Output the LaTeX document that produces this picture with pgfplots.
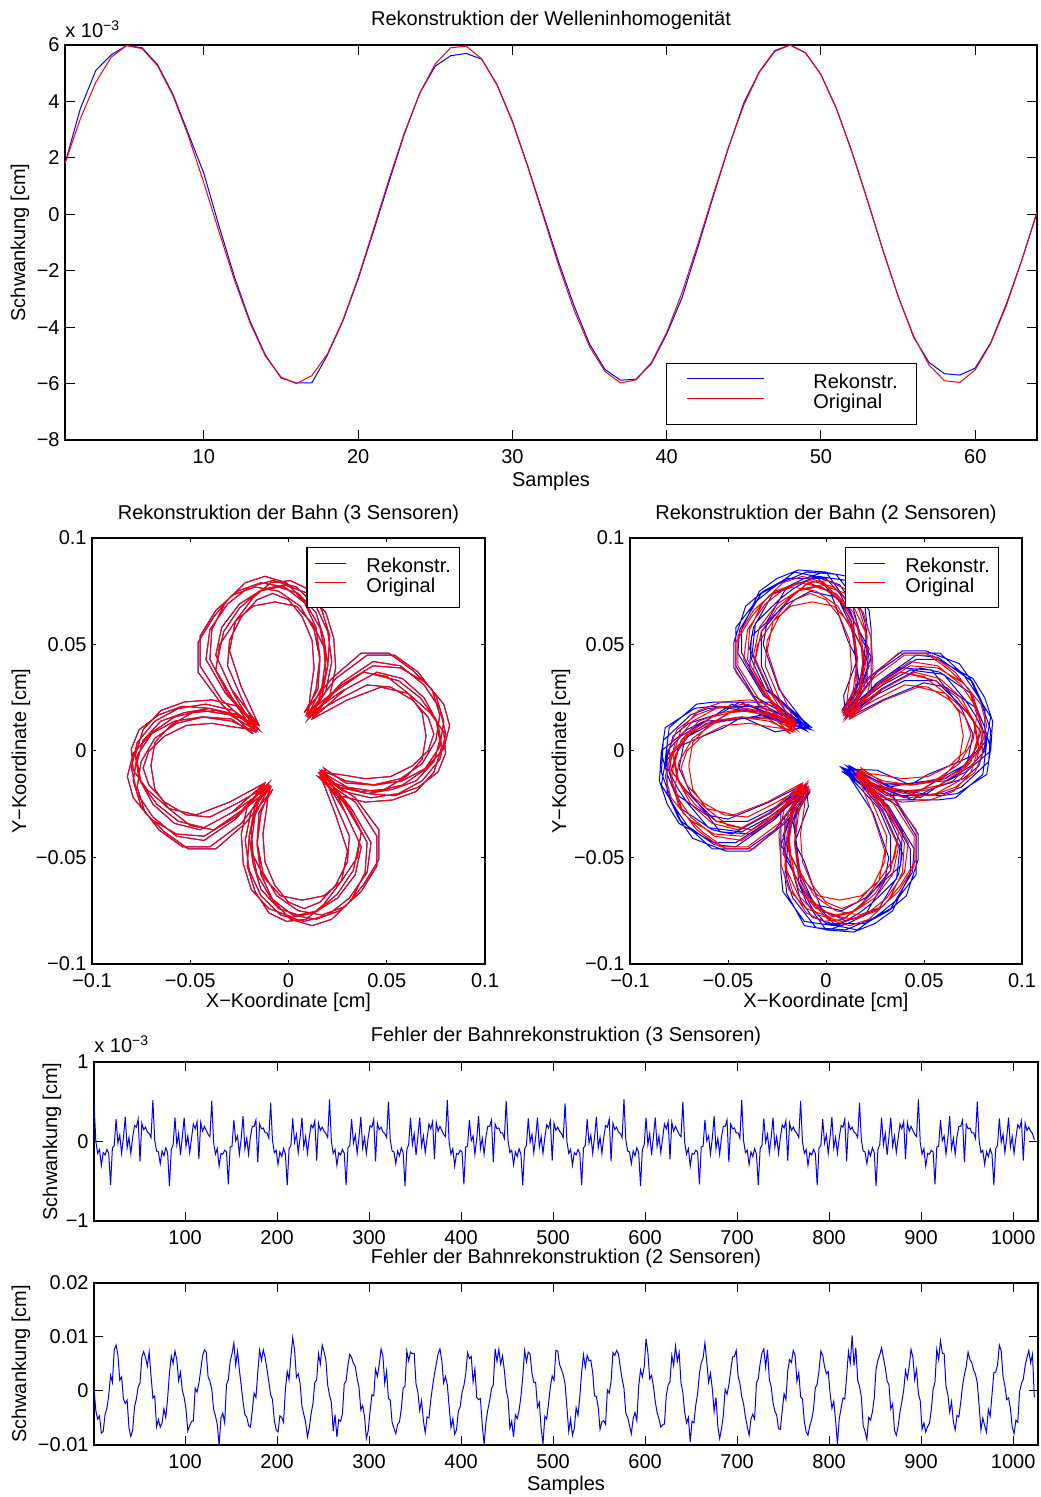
\documentclass[border=0pt]{standalone}
\usepackage{fontspec}
\setmainfont{Liberation Sans}
\usepackage{pgfplots}
\usepackage{pgfplotstable}
\pgfplotsset{compat=1.18}
\definecolor{mblue}{RGB}{0,0,255}
\definecolor{mred}{RGB}{255,0,0}
\pgfplotsset{
  mstyle/.style={
    scale only axis, anchor=south west,
    every axis title shift=0pt,
    axis line style={line width=0.6bp},
    every tick/.style={black, line width=0.5bp},
    tick align=inside,
    font=\fontsize{10bp}{12bp}\selectfont,
    title style={anchor=center, inner sep=0pt},
    xlabel style={anchor=center, inner sep=0pt},
    ylabel style={anchor=center, inner sep=0pt},
    legend cell align=left,
    xticklabel style={yshift=-1.2bp},
    yticklabel style={inner xsep=2.5bp},
  },
  leg1/.style={
    legend style={draw=black, line width=0.6bp, inner xsep=0pt, inner ysep=5.25bp, column sep=24.5bp, row sep=0pt,
      nodes={inner sep=0pt, text height=7.5bp, text depth=2.5bp, text width=51.5bp, align=left}},
    legend image code/.code={\path[draw=none,fill=none] (0bp,0bp) rectangle (48.5bp,5bp); \draw[##1,line width=0.5bp] (10bp,2.75bp) -- (48.5bp,2.75bp);},
  },
  leg2/.style={
    legend style={draw=black, line width=0.6bp, inner xsep=0pt, inner ysep=5.25bp, column sep=10bp, row sep=0pt,
      nodes={inner sep=0pt, text height=7bp, text depth=2.5bp, text width=46.5bp, align=left}},
    legend image code/.code={\path[draw=none,fill=none] (0bp,0bp) rectangle (19.5bp,5bp); \draw[##1,line width=0.5bp] (4bp,2.5bp) -- (19.5bp,2.5bp);},
  },
}

\pgfplotstableread{
n r b
1 1.80 1.80
2 3.39 3.75
3 4.68 5.10
4 5.57 5.65
5 5.98 5.98
6 5.87 5.90
7 5.26 5.30
8 4.20 4.25
9 2.77 2.85
10 1.11 1.45
11 -0.65 -0.45
12 -2.36 -2.25
13 -3.86 -3.80
14 -5.04 -5.00
15 -5.77 -5.80
16 -6.00 -5.98
17 -5.72 -5.98
18 -4.96 -5.00
19 -3.77 -3.80
20 -2.25 -2.30
21 -0.52 -0.60
22 1.24 1.15
23 2.89 2.85
24 4.30 4.30
25 5.33 5.25
26 5.90 5.62
27 5.96 5.70
28 5.51 5.50
29 4.58 4.60
30 3.27 3.30
31 1.67 1.70
32 -0.07 0.00
33 -1.82 -1.70
34 -3.40 -3.25
35 -4.69 -4.60
36 -5.57 -5.50
37 -5.98 -5.88
38 -5.87 -5.85
39 -5.26 -5.30
40 -4.19 -4.25
41 -2.77 -2.95
42 -1.09 -1.20
43 0.67 0.60
44 2.37 2.35
45 3.87 3.95
46 5.03 5.05
47 5.77 5.80
48 6.00 6.00
49 5.72 5.72
50 4.95 4.95
51 3.74 3.75
52 2.22 2.22
53 0.51 0.52
54 -1.25 -1.25
55 -2.91 -2.90
56 -4.31 -4.35
57 -5.34 -5.25
58 -5.90 -5.65
59 -5.96 -5.70
60 -5.51 -5.45
61 -4.58 -4.55
62 -3.26 -3.20
63 -1.66 -1.65
64 0.09 0.05
}\wave

% original trajectory (units of 1e-3 cm)
\pgfplotstableread[row sep=\\]{
x y\\
16 -11\\28 -19\\42 -22\\56 -20\\68 -14\\77 -4\\80 8\\77 20\\69 31\\57 40\\43 42\\27 32\\
11 16\\19 28\\22 42\\20 56\\14 68\\4 77\\-8 80\\-20 77\\-31 69\\-40 57\\-42 43\\-32 27\\
-16 11\\-28 19\\-42 22\\-56 20\\-68 14\\-77 4\\-80 -8\\-77 -20\\-69 -31\\-57 -40\\-43 -42\\-27 -32\\
-11 -16\\-19 -28\\-22 -42\\-20 -56\\-14 -68\\-4 -77\\8 -80\\20 -77\\31 -69\\40 -57\\42 -43\\32 -27\\
17 -10\\30 -17\\44 -19\\58 -16\\69 -9\\77 2\\79 14\\75 26\\66 37\\54 45\\40 45\\24 34\\
10 17\\17 30\\19 44\\16 58\\9 69\\-2 77\\-14 79\\-26 75\\-37 66\\-45 54\\-45 40\\-34 24\\
-17 10\\-30 17\\-44 19\\-58 16\\-69 9\\-77 -2\\-79 -14\\-75 -26\\-66 -37\\-54 -45\\-40 -45\\-24 -34\\
-10 -17\\-17 -30\\-19 -44\\-16 -58\\-9 -69\\2 -77\\14 -79\\26 -75\\37 -66\\45 -54\\45 -40\\34 -24\\
15 -12\\26 -21\\39 -24\\53 -23\\65 -19\\74 -10\\78 2\\76 13\\69 25\\58 34\\45 37\\29 29\\
12 15\\21 26\\24 39\\23 53\\19 65\\10 74\\-2 78\\-13 76\\-25 69\\-34 58\\-37 45\\-29 29\\
-15 12\\-26 21\\-39 24\\-53 23\\-65 19\\-74 10\\-78 -2\\-76 -13\\-69 -25\\-58 -34\\-45 -37\\-29 -29\\
-12 -15\\-21 -26\\-24 -39\\-23 -53\\-19 -65\\-10 -74\\2 -78\\13 -76\\25 -69\\34 -58\\37 -45\\29 -29\\
16 -10\\26 -11\\39 -13\\52 -12\\63 -7\\71 0\\74 8\\71 16\\63 24\\52 30\\40 31\\25 24\\
10 16\\11 26\\13 39\\12 52\\7 63\\0 71\\-8 74\\-16 71\\-24 63\\-30 52\\-31 40\\-24 25\\
-16 10\\-26 11\\-39 13\\-52 12\\-63 7\\-71 0\\-74 -8\\-71 -16\\-63 -24\\-52 -30\\-40 -31\\-25 -24\\
-10 -16\\-11 -26\\-13 -39\\-12 -52\\-7 -63\\0 -71\\8 -74\\16 -71\\24 -63\\30 -52\\31 -40\\24 -25\\
17 -9\\29 -14\\44 -16\\58 -14\\70 -8\\79 1\\82 12\\79 22\\70 32\\57 39\\43 40\\27 31\\
9 17\\14 29\\16 44\\14 58\\8 70\\-1 79\\-12 82\\-22 79\\-32 70\\-39 57\\-40 43\\-31 27\\
-17 9\\-29 14\\-44 16\\-58 14\\-70 8\\-79 -1\\-82 -12\\-79 -22\\-70 -32\\-57 -39\\-43 -40\\-27 -31\\
-9 -17\\-14 -29\\-16 -44\\-14 -58\\-8 -70\\1 -79\\12 -82\\22 -79\\32 -70\\39 -57\\40 -43\\31 -27\\
17 -10\\26 -17\\40 -20\\53 -18\\65 -14\\74 -5\\77 5\\75 15\\67 25\\56 33\\43 36\\27 28\\
10 17\\17 26\\20 40\\18 53\\14 65\\5 74\\-5 77\\-15 75\\-25 67\\-33 56\\-36 43\\-28 27\\
-17 10\\-26 17\\-40 20\\-53 18\\-65 14\\-74 5\\-77 -5\\-75 -15\\-67 -25\\-56 -33\\-43 -36\\-27 -28\\
-10 -17\\-17 -26\\-20 -40\\-18 -53\\-14 -65\\-5 -74\\5 -77\\15 -75\\25 -67\\33 -56\\36 -43\\28 -27\\
18 -8\\29 -15\\43 -16\\57 -13\\68 -6\\75 5\\77 17\\73 29\\63 38\\51 46\\37 46\\22 34\\
8 18\\15 29\\16 43\\13 57\\6 68\\-5 75\\-17 77\\-29 73\\-38 63\\-46 51\\-46 37\\-34 22\\
-18 8\\-29 15\\-43 16\\-57 13\\-68 6\\-75 -5\\-77 -17\\-73 -29\\-63 -38\\-51 -46\\-37 -46\\-22 -34\\
-8 -18\\-15 -29\\-16 -43\\-13 -57\\-6 -68\\5 -75\\17 -77\\29 -73\\38 -63\\46 -51\\46 -37\\34 -22\\
15 -10\\25 -17\\37 -19\\49 -18\\60 -12\\68 -4\\70 7\\68 18\\61 27\\50 35\\38 37\\24 28\\
10 15\\17 25\\19 37\\18 49\\12 60\\4 68\\-7 70\\-18 68\\-27 61\\-35 50\\-37 38\\-28 24\\
-15 10\\-25 17\\-37 19\\-49 18\\-60 12\\-68 4\\-70 -7\\-68 -18\\-61 -27\\-50 -35\\-38 -37\\-24 -28\\
-10 -15\\-17 -25\\-19 -37\\-18 -49\\-12 -60\\-4 -68\\7 -70\\18 -68\\27 -61\\35 -50\\37 -38\\28 -24\\
15 -12\\26 -16\\40 -20\\54 -21\\66 -17\\76 -10\\80 -1\\79 9\\72 18\\61 27\\47 30\\30 24\\
12 15\\16 26\\20 40\\21 54\\17 66\\10 76\\1 80\\-9 79\\-18 72\\-27 61\\-30 47\\-24 30\\
-15 12\\-26 16\\-40 20\\-54 21\\-66 17\\-76 10\\-80 1\\-79 -9\\-72 -18\\-61 -27\\-47 -30\\-30 -24\\
-12 -15\\-16 -26\\-20 -40\\-21 -54\\-17 -66\\-10 -76\\-1 -80\\9 -79\\18 -72\\27 -61\\30 -47\\24 -30\\
16 -11\\
}\redflower

% reconstruction with 2 sensors (units of 1e-3 cm)
\pgfplotstableread[row sep=\\]{
x y\\
9 -8\\31 -21\\43 -21\\60 -20\\69 -17\\83 -5\\84 10\\79 23\\74 33\\57 44\\46 45\\26 32\\
11 17\\21 31\\21 43\\20 60\\17 69\\5 83\\-10 84\\-23 79\\-33 74\\-44 57\\-45 46\\-32 26\\
-9 11\\-31 21\\-43 21\\-60 20\\-69 17\\-83 5\\-84 -10\\-79 -23\\-74 -33\\-57 -44\\-46 -45\\-26 -32\\
-11 -17\\-21 -31\\-21 -43\\-20 -60\\-17 -69\\-5 -83\\10 -84\\23 -79\\33 -74\\44 -57\\45 -46\\32 -26\\
10.5 -7\\30 -16\\48 -22\\58 -16\\74 -7\\81 0\\84 16\\76 28\\70 36\\58 46\\40 46\\26 37\\
10 18\\16 30\\22 48\\16 58\\7 74\\0 81\\-16 84\\-28 76\\-36 70\\-46 58\\-46 40\\-37 26\\
-7.5 10\\-30 16\\-48 22\\-58 16\\-74 7\\-81 0\\-84 -16\\-76 -28\\-70 -36\\-58 -46\\-40 -46\\-26 -37\\
-10 -18\\-16 -30\\-22 -48\\-16 -58\\-7 -74\\0 -81\\16 -84\\28 -76\\36 -70\\46 -58\\46 -40\\37 -26\\
8 -9.5\\29 -23\\40 -23\\57 -23\\66 -22\\80 -11\\82 4\\78 16\\74 27\\58 37\\48 39\\28 29\\
12 16\\23 29\\23 40\\23 57\\22 66\\11 80\\-4 82\\-16 78\\-27 74\\-37 58\\-39 48\\-29 28\\
-10.5 12\\-29 23\\-40 23\\-57 23\\-66 22\\-80 11\\-82 -4\\-78 -16\\-74 -27\\-58 -37\\-48 -39\\-28 -29\\
-12 -16\\-23 -29\\-23 -40\\-23 -57\\-22 -66\\-11 -80\\4 -82\\16 -78\\27 -74\\37 -58\\39 -48\\29 -28\\
11 -8.5\\26 -9\\43 -16\\52 -11\\68 -5\\75 -2\\79 9\\72 18\\67 23\\56 33\\40 33\\27 27\\
10 17\\9 26\\16 43\\11 52\\5 68\\2 75\\-9 79\\-18 72\\-23 67\\-33 56\\-33 40\\-27 27\\
-8 11.5\\-26 9\\-43 16\\-52 11\\-68 5\\-75 2\\-79 -9\\-72 -18\\-67 -23\\-56 -33\\-40 -33\\-27 -27\\
-10 -17\\-9 -26\\-16 -43\\-11 -52\\-5 -68\\-2 -75\\9 -79\\18 -72\\23 -67\\33 -56\\33 -40\\27 -27\\
7.5 -7.5\\32 -16\\45 -15\\62 -14\\71 -10\\84 0\\85 14\\81 25\\75 34\\57 43\\46 43\\26 31\\
9 18\\16 32\\15 45\\14 62\\10 71\\0 84\\-14 85\\-25 81\\-34 75\\-43 57\\-43 46\\-31 26\\
-11 10.5\\-32 16\\-45 15\\-62 14\\-71 10\\-84 0\\-85 -14\\-81 -25\\-75 -34\\-57 -43\\-46 -43\\-26 -31\\
-9 -18\\-16 -32\\-15 -45\\-14 -62\\-10 -71\\0 -84\\14 -85\\25 -81\\34 -75\\43 -57\\43 -46\\31 -26\\
9.5 -9\\26 -16\\44 -23\\53 -18\\70 -13\\78 -7\\82 6\\76 17\\71 24\\60 36\\43 38\\29 31\\
10 18\\16 26\\23 44\\18 53\\13 70\\7 78\\-6 82\\-17 76\\-24 71\\-36 60\\-38 43\\-31 29\\
-9.5 12.5\\-26 16\\-44 23\\-53 18\\-70 13\\-78 7\\-82 -6\\-76 -17\\-71 -24\\-60 -36\\-43 -38\\-29 -31\\
-10 -18\\-16 -26\\-23 -44\\-18 -53\\-13 -70\\-7 -78\\6 -82\\17 -76\\24 -71\\36 -60\\38 -43\\31 -29\\
12 -7\\32 -17\\44 -15\\61 -13\\69 -8\\81 4\\81 20\\75 32\\68 41\\51 47\\39 47\\21 34\\
8 19\\17 32\\15 44\\13 61\\8 69\\-4 81\\-20 81\\-32 75\\-41 68\\-47 51\\-47 39\\-34 21\\
-7 11\\-32 17\\-44 15\\-61 13\\-69 8\\-81 -4\\-81 -20\\-75 -32\\-68 -41\\-51 -47\\-39 -47\\-21 -34\\
-8 -19\\-17 -32\\-15 -44\\-13 -61\\-8 -69\\4 -81\\20 -81\\32 -75\\41 -68\\47 -51\\47 -39\\34 -21\\
8.5 -8.5\\25 -16\\40 -22\\49 -18\\64 -10\\72 -6\\75 8\\69 20\\64 26\\54 38\\38 39\\26 31\\
10 16\\16 25\\22 40\\18 49\\10 64\\6 72\\-8 75\\-20 69\\-26 64\\-38 54\\-39 38\\-31 26\\
-10 9.5\\-25 16\\-40 22\\-49 18\\-64 10\\-72 6\\-75 -8\\-69 -20\\-64 -26\\-54 -38\\-38 -39\\-26 -31\\
-10 -16\\-16 -25\\-22 -40\\-18 -49\\-10 -64\\-6 -72\\8 -75\\20 -69\\26 -64\\38 -54\\39 -38\\31 -26\\
10 -9\\29 -18\\41 -19\\58 -21\\67 -20\\82 -11\\84 1\\81 11\\77 20\\61 30\\50 32\\29 24\\
12 16\\18 29\\19 41\\21 58\\20 67\\11 82\\-1 84\\-11 81\\-20 77\\-30 61\\-32 50\\-24 29\\
-9 11\\-29 18\\-41 19\\-58 21\\-67 20\\-82 11\\-84 -1\\-81 -11\\-77 -20\\-61 -30\\-50 -32\\-29 -24\\
-12 -16\\-18 -29\\-19 -41\\-21 -58\\-20 -67\\-11 -82\\1 -84\\11 -81\\20 -77\\30 -61\\32 -50\\24 -29\\
9 -8\\
}\blueflower

% error, 3 sensors (units 1e-3), every 2nd sample starting at 1
\pgfplotstableread[header=false,row sep=\\]{
0.50\\0.00\\-0.15\\-0.10\\-0.30\\-0.14\\-0.17\\-0.10\\-0.15\\-0.55\\-0.08\\-0.05\\0.28\\-0.02\\0.08\\-0.15\\0.05\\0.31\\-0.08\\0.05\\-0.15\\0.05\\0.20\\0.18\\0.28\\-0.25\\0.23\\0.15\\0.18\\0.12\\0.10\\0.05\\
0.52\\0.02\\-0.12\\-0.13\\-0.28\\-0.12\\-0.18\\-0.08\\-0.14\\-0.56\\-0.10\\-0.04\\0.30\\-0.04\\0.10\\-0.17\\0.06\\0.30\\-0.06\\0.07\\-0.14\\0.04\\0.22\\0.16\\0.25\\-0.22\\0.24\\0.13\\0.19\\0.14\\0.09\\0.06\\
0.51\\-0.01\\-0.16\\-0.09\\-0.31\\-0.15\\-0.16\\-0.11\\-0.13\\-0.54\\-0.07\\-0.06\\0.27\\0.01\\0.07\\-0.16\\0.04\\0.32\\-0.09\\0.04\\-0.16\\0.06\\0.19\\0.19\\0.27\\-0.26\\0.22\\0.16\\0.17\\0.11\\0.11\\0.04\\
0.49\\0.01\\-0.14\\-0.11\\-0.29\\-0.13\\-0.19\\-0.09\\-0.16\\-0.55\\-0.09\\-0.05\\0.29\\-0.01\\0.09\\-0.14\\0.05\\0.30\\-0.07\\0.06\\-0.15\\0.05\\0.21\\0.17\\0.26\\-0.24\\0.23\\0.14\\0.18\\0.13\\0.10\\0.05\\
0.53\\0.00\\-0.15\\-0.10\\-0.30\\-0.14\\-0.17\\-0.10\\-0.15\\-0.55\\-0.08\\-0.05\\0.28\\-0.02\\0.08\\-0.15\\0.05\\0.31\\-0.08\\0.05\\-0.15\\0.05\\0.20\\0.18\\0.28\\-0.25\\0.23\\0.15\\0.18\\0.12\\0.10\\0.05\\
0.50\\0.02\\-0.12\\-0.13\\-0.28\\-0.12\\-0.18\\-0.08\\-0.14\\-0.56\\-0.10\\-0.04\\0.30\\-0.04\\0.10\\-0.17\\0.06\\0.30\\-0.06\\0.07\\-0.14\\0.04\\0.22\\0.16\\0.25\\-0.22\\0.24\\0.13\\0.19\\0.14\\0.09\\0.06\\
0.52\\-0.01\\-0.16\\-0.09\\-0.31\\-0.15\\-0.16\\-0.11\\-0.13\\-0.54\\-0.07\\-0.06\\0.27\\0.01\\0.07\\-0.16\\0.04\\0.32\\-0.09\\0.04\\-0.16\\0.06\\0.19\\0.19\\0.27\\-0.26\\0.22\\0.16\\0.17\\0.11\\0.11\\0.04\\
0.51\\0.01\\-0.14\\-0.11\\-0.29\\-0.13\\-0.19\\-0.09\\-0.16\\-0.55\\-0.09\\-0.05\\0.29\\-0.01\\0.09\\-0.14\\0.05\\0.30\\-0.07\\0.06\\-0.15\\0.05\\0.21\\0.17\\0.26\\-0.24\\0.23\\0.14\\0.18\\0.13\\0.10\\0.05\\
0.48\\0.00\\-0.15\\-0.10\\-0.30\\-0.14\\-0.17\\-0.10\\-0.15\\-0.55\\-0.08\\-0.05\\0.28\\-0.02\\0.08\\-0.15\\0.05\\0.31\\-0.08\\0.05\\-0.15\\0.05\\0.20\\0.18\\0.28\\-0.25\\0.23\\0.15\\0.18\\0.12\\0.10\\0.05\\
0.53\\0.02\\-0.12\\-0.13\\-0.28\\-0.12\\-0.18\\-0.08\\-0.14\\-0.56\\-0.10\\-0.04\\0.30\\-0.04\\0.10\\-0.17\\0.06\\0.30\\-0.06\\0.07\\-0.14\\0.04\\0.22\\0.16\\0.25\\-0.22\\0.24\\0.13\\0.19\\0.14\\0.09\\0.06\\
0.50\\-0.01\\-0.16\\-0.09\\-0.31\\-0.15\\-0.16\\-0.11\\-0.13\\-0.54\\-0.07\\-0.06\\0.27\\0.01\\0.07\\-0.16\\0.04\\0.32\\-0.09\\0.04\\-0.16\\0.06\\0.19\\0.19\\0.27\\-0.26\\0.22\\0.16\\0.17\\0.11\\0.11\\0.04\\
0.52\\0.01\\-0.14\\-0.11\\-0.29\\-0.13\\-0.19\\-0.09\\-0.16\\-0.55\\-0.09\\-0.05\\0.29\\-0.01\\0.09\\-0.14\\0.05\\0.30\\-0.07\\0.06\\-0.15\\0.05\\0.21\\0.17\\0.26\\-0.24\\0.23\\0.14\\0.18\\0.13\\0.10\\0.05\\
0.51\\0.00\\-0.15\\-0.10\\-0.30\\-0.14\\-0.17\\-0.10\\-0.15\\-0.55\\-0.08\\-0.05\\0.28\\-0.02\\0.08\\-0.15\\0.05\\0.31\\-0.08\\0.05\\-0.15\\0.05\\0.20\\0.18\\0.28\\-0.25\\0.23\\0.15\\0.18\\0.12\\0.10\\0.05\\
0.49\\0.02\\-0.12\\-0.13\\-0.28\\-0.12\\-0.18\\-0.08\\-0.14\\-0.56\\-0.10\\-0.04\\0.30\\-0.04\\0.10\\-0.17\\0.06\\0.30\\-0.06\\0.07\\-0.14\\0.04\\0.22\\0.16\\0.25\\-0.22\\0.24\\0.13\\0.19\\0.14\\0.09\\0.06\\
0.53\\-0.01\\-0.16\\-0.09\\-0.31\\-0.15\\-0.16\\-0.11\\-0.13\\-0.54\\-0.07\\-0.06\\0.27\\0.01\\0.07\\-0.16\\0.04\\0.32\\-0.09\\0.04\\-0.16\\0.06\\0.19\\0.19\\0.27\\-0.26\\0.22\\0.16\\0.17\\0.11\\0.11\\0.04\\
0.50\\0.01\\-0.14\\-0.11\\-0.29\\-0.13\\-0.19\\-0.09\\-0.16\\-0.55\\-0.09\\-0.05\\0.29\\-0.01\\0.09\\-0.14\\0.05\\0.30\\-0.07\\0.06\\-0.15\\0.05\\0.21\\0.17\\0.26\\-0.24\\0.23\\0.14\\0.18\\0.13\\0.10\\0.02\\
}\errthree

% error, 2 sensors (units 1e-3), every 2nd sample starting at 1
\pgfplotstableread[header=false,row sep=\\]{
0.6\\-3.7\\-5.2\\-4.6\\-7.8\\-7.5\\-4.4\\-3.2\\-0.8\\2.9\\1.6\\7.6\\8.5\\6.7\\2.0\\2.6\\
-1.5\\-2.3\\-1.7\\-6.8\\-8.4\\-7.3\\-3.0\\-1.5\\0.7\\1.5\\6.3\\7.3\\6.2\\4.6\\7.2\\2.8\\
-1.3\\-0.9\\-6.6\\-5.3\\-6.7\\-5.9\\-3.3\\-4.9\\-1.4\\3.3\\6.5\\5.1\\7.4\\5.8\\1.9\\3.5\\
0.1\\-1.2\\-3.4\\-7.4\\-6.4\\-5.7\\-5.5\\0.5\\-0.2\\1.4\\3.9\\6.5\\7.6\\7.2\\2.6\\1.8\\
0.3\\-3.4\\-4.6\\-6.2\\-10.0\\-5.0\\-4.1\\-5.9\\1.2\\2.1\\5.5\\6.9\\8.9\\4.8\\7.3\\3.9\\
1.0\\-2.0\\-4.4\\-4.8\\-6.4\\-6.7\\-3.7\\-0.4\\-1.2\\3.4\\7.6\\5.7\\7.6\\6.2\\4.1\\1.7\\
-0.7\\-1.6\\-5.5\\-7.2\\-7.6\\-4.6\\-4.9\\-5.8\\0.2\\3.6\\2.1\\6.4\\9.9\\7.6\\2.5\\3.2\\
1.4\\-2.8\\-4.3\\-5.8\\-8.5\\-6.8\\-4.2\\-2.3\\1.6\\2.0\\6.9\\5.0\\8.5\\7.3\\5.8\\1.1\\
-0.8\\-2.1\\-7.4\\-4.4\\-8.5\\-5.3\\-5.6\\-4.2\\1.3\\1.9\\4.8\\6.8\\6.2\\5.1\\4.5\\2.3\\
0.7\\-3.5\\-2.7\\-4.7\\-8.8\\-7.4\\-3.8\\-0.7\\-0.9\\4.0\\2.7\\4.9\\7.8\\6.5\\1.4\\3.7\\
-1.4\\-1.7\\-5.8\\-6.9\\-7.9\\-6.2\\-5.7\\-3.3\\0.5\\0.9\\7.4\\5.6\\7.2\\6.9\\7.0\\1.3\\
-0.2\\-3.6\\-1.8\\-5.5\\-7.7\\-4.8\\-5.0\\-1.7\\0.9\\3.1\\5.0\\6.9\\7.8\\5.7\\1.5\\2.7\\
1.2\\-2.9\\-6.8\\-5.1\\-8.0\\-7.2\\-3.7\\-2.9\\-0.3\\1.0\\3.1\\7.1\\6.0\\6.4\\1.7\\4.1\\
-1.2\\-1.6\\-1.4\\-6.3\\-9.9\\-5.8\\-3.5\\-1.8\\0.4\\1.2\\7.8\\5.5\\7.7\\5.0\\6.5\\3.8\\
0.2\\-1.4\\-6.9\\-5.6\\-8.5\\-4.4\\-5.1\\-3.6\\-1.0\\2.6\\7.5\\5.4\\7.2\\6.8\\3.3\\1.6\\
1.6\\-3.0\\-2.1\\-7.0\\-9.8\\-4.7\\-5.2\\-2.4\\0.8\\2.8\\2.0\\7.5\\7.4\\4.9\\4.0\\3.0\\
1.3\\-3.1\\-7.5\\-5.2\\-8.2\\-6.9\\-3.1\\-4.5\\-1.1\\3.5\\6.7\\4.4\\6.6\\5.6\\5.7\\3.4\\
-0.9\\-1.0\\-3.0\\-7.1\\-5.7\\-5.5\\-6.2\\0.2\\-0.4\\1.8\\7.1\\6.6\\7.5\\6.9\\4.4\\2.2\\
0.5\\-4.1\\-4.9\\-6.4\\-7.9\\-5.1\\-4.0\\-5.5\\0.9\\3.9\\2.6\\4.5\\9.7\\7.1\\2.2\\2.9\\
0.9\\-1.9\\-4.0\\-5.1\\-6.7\\-6.3\\-6.1\\-0.8\\1.1\\1.7\\6.6\\4.7\\8.3\\5.5\\7.1\\1.5\\
-0.3\\-4.0\\-5.9\\-4.9\\-9.4\\-5.6\\-5.9\\-2.7\\-0.5\\3.2\\5.2\\6.1\\8.9\\5.4\\1.6\\3.3\\
0.4\\-3.8\\-1.2\\-6.5\\-8.8\\-7.0\\-4.5\\0.3\\-0.6\\1.1\\3.7\\6.3\\6.4\\7.5\\2.8\\1.4\\
-1.0\\-2.4\\-4.8\\-6.6\\-8.2\\-5.2\\-4.3\\-5.2\\1.5\\2.3\\5.1\\7.0\\7.8\\4.4\\7.6\\2.1\\
0.8\\-2.2\\-3.7\\-4.5\\-7.0\\-7.1\\-3.6\\-0.5\\-1.6\\3.7\\5.8\\5.3\\7.5\\6.6\\1.8\\3.4\\
-1.1\\-1.5\\-5.6\\-7.6\\-8.2\\-6.4\\-5.3\\-3.4\\0.6\\1.3\\3.8\\7.4\\6.6\\4.5\\3.2\\3.6\\
-0.4\\-3.2\\-1.9\\-5.4\\-9.8\\-5.1\\-3.2\\-1.3\\-1.5\\2.7\\7.3\\5.2\\10.3\\4.7\\8.0\\2.0\\
0.9\\-1.1\\-6.4\\-7.5\\-9.0\\-4.9\\-5.4\\-3.9\\-1.3\\4.1\\5.7\\6.7\\8.0\\6.1\\4.3\\1.9\\
1.1\\-3.3\\-2.4\\-7.3\\-8.2\\-6.5\\-3.9\\-2.0\\0.1\\3.8\\2.3\\4.6\\7.7\\6.3\\2.1\\4.0\\
-0.5\\-1.8\\-7.1\\-5.9\\-7.6\\-6.6\\-6.0\\-3.5\\0.3\\1.6\\7.7\\5.8\\9.3\\7.0\\6.9\\0.9\\
-0.6\\-3.9\\-2.0\\-5.7\\-7.2\\-4.5\\-4.8\\-2.1\\1.0\\3.0\\4.6\\7.2\\5.8\\5.3\\3.9\\3.1\\
1.5\\-2.7\\-7.2\\-5.0\\-6.4\\-7.6\\-3.4\\-4.7\\-0.7\\3.4\\3.5\\4.8\\8.5\\7.4\\2.7\\1.0\\
-1.6\\-1.3\\-3.2\\-6.7\\-7.9\\-5.4\\-5.8\\-0.1\\1.4\\2.2\\4.7\\6.2\\7.5\\5.2\\6.8\\-1.2\\
}\errtwo

\begin{document}
\begin{tikzpicture}[font=\fontsize{10bp}{12bp}\selectfont]
\useasboundingbox (0,0) rectangle (520.5bp,748.5bp);

% ---------- top: wave inhomogeneity
\begin{axis}[mstyle, leg1, name=ax1, at={(32.5bp,528.5bp)}, width=486bp, height=197.5bp,
  major tick length=5bp,
  xmin=1, xmax=64, ymin=-8, ymax=6,
  xtick={10,20,30,40,50,60}, xticklabels={10,20,30,40,50,60},
  ytick={-8,-6,-4,-2,0,2,4,6}, yticklabels={−8,−6,−4,−2,0,2,4,6},
  title={Rekonstruktion der Welleninhomogenität},
  title style={at={(axis description cs:0.5,1.063)}},
  xlabel={Samples}, xlabel style={at={(axis description cs:0.5,-0.104)}},
  ylabel={Schwankung [cm]}, ylabel style={at={(axis description cs:-0.0463,0.5)}},
  legend style={at={(axis description cs:0.8765,0.038)}, anchor=south east},
]
\addplot[mblue, line width=0.5bp] table[x=n, y=b] {\wave};
\addplot[mred, line width=0.5bp] table[x=n, y=r] {\wave};
\legend{Rekonstr., Original}
\end{axis}
\node[anchor=base west, inner sep=0pt] at ([yshift=3.5bp]ax1.north west) {x 10\textsuperscript{−3}};

% ---------- middle left: 3 sensors
\begin{axis}[mstyle, leg2, name=ax2, at={(46bp,266.5bp)}, width=196.5bp, height=213bp,
  major tick length=2bp,
  xmin=-100, xmax=100, ymin=-100, ymax=100,
  xtick={-100,-50,0,50,100}, xticklabels={−0.1,−0.05,0,0.05,0.1},
  ytick={-100,-50,0,50,100}, yticklabels={−0.1,−0.05,0,0.05,0.1},
  title={Rekonstruktion der Bahn (3 Sensoren)},
  title style={at={(axis description cs:0.5,1.056)}},
  xlabel={X−Koordinate [cm]}, xlabel style={at={(axis description cs:0.5,-0.0892)}},
  ylabel={Y−Koordinate [cm]}, ylabel style={at={(axis description cs:-0.1807,0.5)}},
  legend style={at={(axis description cs:0.9364,0.9789)}, anchor=north east},
]
\addplot[mblue, line width=0.5bp] table[x=x, y=y] {\redflower};
\addplot[mred, line width=0.5bp] table[x=x, y=y] {\redflower};
\legend{Rekonstr., Original}
\end{axis}

% ---------- middle right: 2 sensors
\begin{axis}[mstyle, leg2, name=ax3, at={(315bp,266.5bp)}, width=196bp, height=213bp,
  major tick length=2bp,
  xmin=-100, xmax=100, ymin=-100, ymax=100,
  xtick={-100,-50,0,50,100}, xticklabels={−0.1,−0.05,0,0.05,0.1},
  ytick={-100,-50,0,50,100}, yticklabels={−0.1,−0.05,0,0.05,0.1},
  title={Rekonstruktion der Bahn (2 Sensoren)},
  title style={at={(axis description cs:0.5,1.056)}},
  xlabel={X−Koordinate [cm]}, xlabel style={at={(axis description cs:0.5,-0.0892)}},
  ylabel={Y−Koordinate [cm]}, ylabel style={at={(axis description cs:-0.176,0.5)}},
  legend style={at={(axis description cs:0.9413,0.9789)}, anchor=north east},
]
\addplot[mblue, line width=0.5bp] table[x=x, y=y] {\blueflower};
\addplot[mred, line width=0.5bp] table[x=x, y=y] {\redflower};
\legend{Rekonstr., Original}
\end{axis}

% ---------- error 3 sensors
\begin{axis}[mstyle, name=ax4, at={(47bp,138bp)}, width=472bp, height=79.5bp,
  major tick length=4.7bp,
  xmin=1, xmax=1027, ymin=-1, ymax=1,
  xtick={100,200,...,1000}, xticklabels={100,200,300,400,500,600,700,800,900,1000},
  ytick={-1,0,1}, yticklabels={−1,0,1},
  title={Fehler der Bahnrekonstruktion (3 Sensoren)},
  title style={at={(axis description cs:0.5,1.164)}},
  ylabel={Schwankung [cm]}, ylabel style={at={(axis description cs:-0.0445,0.5)}},
]
\addplot[mblue, line width=0.5bp] table[x expr=\coordindex*2+1, y index=0] {\errthree};
\end{axis}
\node[anchor=base west, inner sep=0pt] at ([yshift=4.7bp]ax4.north west) {x 10\textsuperscript{−3}};

% ---------- error 2 sensors
\begin{axis}[mstyle, name=ax5, at={(47bp,26bp)}, width=472bp, height=81bp,
  major tick length=4.7bp,
  xmin=1, xmax=1027, ymin=-10, ymax=20,
  xtick={100,200,...,1000}, xticklabels={100,200,300,400,500,600,700,800,900,1000},
  ytick={-10,0,10,20}, yticklabels={−0.01,0,0.01,0.02},
  title={Fehler der Bahnrekonstruktion (2 Sensoren)},
  title style={at={(axis description cs:0.5,1.154)}},
  xlabel={Samples}, xlabel style={at={(axis description cs:0.5,-0.247)}},
  ylabel={Schwankung [cm]}, ylabel style={at={(axis description cs:-0.0773,0.5)}},
]
\addplot[mblue, line width=0.5bp] table[x expr=\coordindex*2+1, y index=0] {\errtwo};
\end{axis}
\end{tikzpicture}
\end{document}
